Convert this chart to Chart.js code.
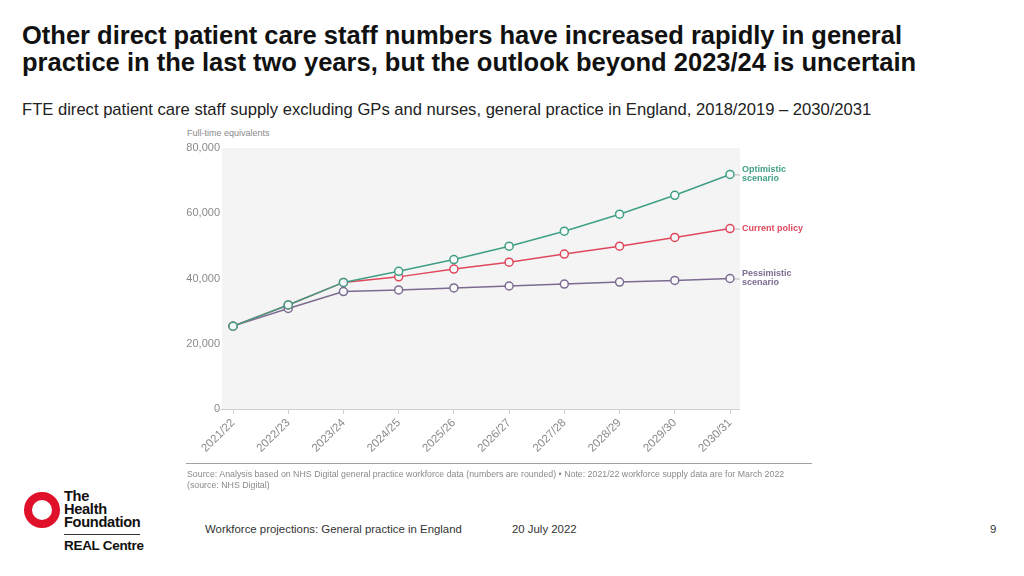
<!DOCTYPE html>
<html>
<head>
<meta charset="utf-8">
<script src="https://cdn.jsdelivr.net/npm/chart.js@4"></script>
<style>
  body { margin: 0; width: 1024px; height: 576px; background: #fff; position: relative; overflow: hidden; font-family: "Liberation Sans", Arial, sans-serif; }
  .title { position: absolute; left: 22px; top: 22px; font-size: 25.5px; font-weight: bold; line-height: 27px; color: #111; }
  .subtitle { position: absolute; left: 22px; top: 100px; font-size: 16.6px; color: #222; }
  .yunit { position: absolute; left: 187px; top: 128px; font-size: 9px; color: #8a8a8a; }
  #chartBox { position: absolute; left: 170px; top: 125px; width: 650px; height: 340px; }
  .rule { position: absolute; left: 186px; top: 463px; width: 626px; height: 1px; background: #a0a0a0; }
  .source { position: absolute; left: 187px; top: 469px; font-size: 8.8px; line-height: 11px; color: #8a8a8a; }
  .ring { position: absolute; left: 24px; top: 492px; width: 20px; height: 20px; border: 8px solid #e0102a; border-radius: 50%; }
  .brand { position: absolute; left: 64px; top: 490px; font-size: 14.6px; font-weight: bold; line-height: 13px; color: #111; letter-spacing: -0.3px; }
  .brandRule { position: absolute; left: 64px; top: 534px; width: 76px; height: 1px; background: #333; }
  .centre { position: absolute; left: 64px; top: 538px; font-size: 13.5px; font-weight: bold; color: #111; letter-spacing: -0.3px; }
  .foot { position: absolute; top: 523px; font-size: 11.4px; color: #333; }
</style>
</head>
<body>
<div class="title">Other direct patient care staff numbers have increased rapidly in general<br>practice in the last two years, but the outlook beyond 2023/24 is uncertain</div>
<div class="subtitle">FTE direct patient care staff supply excluding GPs and nurses, general practice in England, 2018/2019 – 2030/2031</div>
<div class="yunit">Full-time equivalents</div>
<div id="chartBox"><canvas id="chart"></canvas></div>
<div class="rule"></div>
<div class="source">Source: Analysis based on NHS Digital general practice workforce data (numbers are rounded) • Note: 2021/22 workforce supply data are for March 2022<br>(source: NHS Digital)</div>
<div class="ring"></div>
<div class="brand">The<br>Health<br>Foundation</div>
<div class="brandRule"></div>
<div class="centre">REAL Centre</div>
<div class="foot" style="left:205px">Workforce projections: General practice in England</div>
<div class="foot" style="left:512px">20 July 2022</div>
<div class="foot" style="left:990px">9</div>

<script>
const years = ['2021/22', '2022/23', '2023/24', '2024/25', '2025/26', '2026/27', '2027/28', '2028/29', '2029/30', '2030/31'];
const optimistic = [25400, 31900, 38800, 42200, 45800, 49900, 54500, 59700, 65500, 71900];
const currentPolicy = [25400, 31900, 38800, 40500, 42900, 45000, 47500, 49900, 52600, 55300];
const pessimistic = [25400, 30800, 36000, 36500, 37100, 37700, 38300, 38900, 39400, 40000];
const seriesNames = [['Optimistic', 'scenario'], ['Current policy'], ['Pessimistic', 'scenario']];
const seriesColors = ['#3f9f86', '#e0485c', '#7c6b91'];
const yTicks = [0, 20000, 40000, 60000, 80000];

// grey panel, axis line and the end labels
const decor = {
    id: 'decor',
    beforeDraw(chart) {
        const { ctx, chartArea: a } = chart;
        ctx.save();
        ctx.fillStyle = '#f4f4f4';
        ctx.fillRect(a.left - 11, a.top, a.right - a.left + 21, a.bottom - a.top);
        ctx.restore();
    },
    afterDraw(chart) {
        const { ctx, chartArea: a } = chart;
        ctx.save();
        ctx.strokeStyle = '#d0d0d0';
        ctx.lineWidth = 1;
        ctx.beginPath();
        ctx.moveTo(a.left - 17, a.bottom + 0.5);
        ctx.lineTo(a.right + 10, a.bottom + 0.5);
        ctx.stroke();

        ctx.font = 'bold 9px "Liberation Sans", Arial, sans-serif';
        ctx.textBaseline = 'middle';
        chart.data.datasets.forEach((ds, i) => {
            const meta = chart.getDatasetMeta(i);
            const pt = meta.data[meta.data.length - 1];
            ctx.strokeStyle = '#bbb';
            ctx.beginPath();
            ctx.moveTo(pt.x + 5, pt.y + 0.5);
            ctx.lineTo(pt.x + 10, pt.y + 0.5);
            ctx.stroke();
            ctx.fillStyle = ds.borderColor;
            const lines = seriesNames[i];
            lines.forEach((t, j) => {
                ctx.fillText(t, pt.x + 12, pt.y + (j - (lines.length - 1) / 2) * 9);
            });
        });
        ctx.restore();
    }
};

function makeSet(data, i) {
    return {
        label: seriesNames[i].join(' '),
        data: data,
        borderColor: seriesColors[i],
        backgroundColor: '#f8f8f8',
        pointBackgroundColor: '#f8f8f8',
        pointBorderColor: seriesColors[i],
        pointRadius: 4,
        pointBorderWidth: 1.5,
        borderWidth: 1.5,
        tension: 0
    };
}

new Chart(document.getElementById('chart'), {
    type: 'line',
    data: {
        labels: years,
        datasets: [makeSet(optimistic, 0), makeSet(currentPolicy, 1), makeSet(pessimistic, 2)]
    },
    options: {
        responsive: true,
        maintainAspectRatio: false,
        animation: false,
        layout: { padding: { top: 23, right: 90, left: 0, bottom: 0 } },
        plugins: { legend: { display: false }, tooltip: { enabled: false } },
        scales: {
            x: {
                offset: false,
                afterFit(s) { s.height = 56; },
                grid: { display: true, drawOnChartArea: false, drawTicks: true, tickLength: 5, color: '#d0d0d0' },
                border: { display: false },
                ticks: {
                    color: '#8a8a8a',
                    font: { size: 11.5, family: '"Liberation Sans", Arial, sans-serif' },
                    minRotation: 45,
                    maxRotation: 45,
                    autoSkip: false,
                    padding: 2
                }
            },
            y: {
                min: 0,
                max: 80000,
                afterFit(s) { s.width = 63; },
                afterBuildTicks(s) { s.ticks = yTicks.map(v => ({ value: v })); },
                grid: { display: false },
                border: { display: false },
                ticks: {
                    color: '#8a8a8a',
                    padding: 5,
                    font: { size: 11, family: '"Liberation Sans", Arial, sans-serif' },
                    callback: v => v.toLocaleString('en-GB')
                }
            }
        }
    },
    plugins: [decor]
});
</script>
</body>
</html>
